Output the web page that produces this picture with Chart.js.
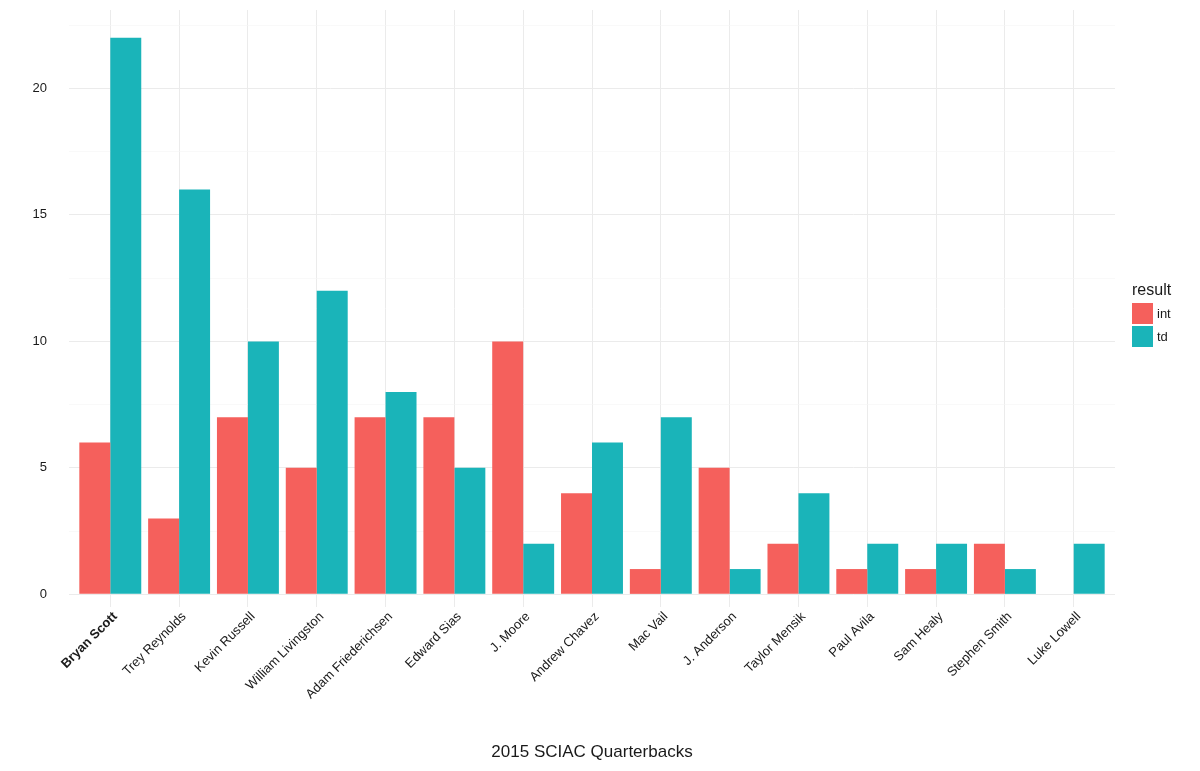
<!DOCTYPE html>
<html>
<head>
<meta charset="utf-8">
<script src="https://cdn.jsdelivr.net/npm/chart.js@4"></script>
<style>
    body { margin: 0; background: #fff; font-family: "Liberation Sans", Arial, sans-serif; }
    #wrap { position: relative; width: 1200px; height: 771px; }
    #legend { position: absolute; left: 1132px; top: 280px; color: #1a1a1a; }
    #legend .title { font-size: 16px; line-height: 20px; margin-bottom: 2px; }
    #legend .item { display: flex; align-items: center; height: 23px; font-size: 13px; }
    #legend .box { width: 21px; height: 21px; margin-right: 4px; }
</style>
</head>
<body>
<div id="wrap">
    <canvas id="qb-chart"></canvas>
    <div id="legend"></div>
</div>
<script>
const players = ["Bryan Scott", "Trey Reynolds", "Kevin Russell", "William Livingston", "Adam Friederichsen",
    "Edward Sias", "J. Moore", "Andrew Chavez", "Mac Vail", "J. Anderson", "Taylor Mensik",
    "Paul Avila", "Sam Healy", "Stephen Smith", "Luke Lowell"];
const int_values = [6, 3, 7, 5, 7, 7, 10, 4, 1, 5, 2, 1, 1, 2, 0];
const td_values = [22, 16, 10, 12, 8, 5, 2, 6, 7, 1, 4, 2, 2, 1, 2];
const series_names = ["int", "td"];
const y_major = [0, 5, 10, 15, 20];
const y_minor = [2.5, 7.5, 12.5, 17.5, 22.5];

const colors = ["#F5605C", "#1AB4B9"];
const font_family = '"Liberation Sans", Arial, sans-serif';
const text_color = "#1a1a1a";

// legend (ggplot style, to the right)
let legend = document.getElementById("legend");
let html = '<div class="title">result</div>';
series_names.forEach(function(name, i) {
    html += '<div class="item"><div class="box" style="background:' + colors[i] + '"></div>' + name + '</div>';
});
legend.innerHTML = html;

function toPoints(values) {
    return values.map(function(v, i) { return {x: i, y: v}; });
}

let all_y_ticks = y_major.concat(y_minor).sort(function(a, b) { return a - b; });

new Chart("qb-chart", {
    type: "bar",
    data: {
        datasets: [
            { label: series_names[0], data: toPoints(int_values), backgroundColor: colors[0] },
            { label: series_names[1], data: toPoints(td_values), backgroundColor: colors[1] }
        ]
    },
    options: {
        responsive: true,
        maintainAspectRatio: false,
        animation: false,
        events: [],
        layout: { padding: { left: 9, right: 85, top: 10, bottom: 0 } },
        datasets: { bar: { categoryPercentage: 0.9, barPercentage: 1.0 } },
        plugins: {
            legend: { display: false },
            tooltip: { enabled: false }
        },
        scales: {
            x: {
                type: "linear",
                offset: false,
                min: -0.6,
                max: players.length - 0.4,
                afterBuildTicks: function(scale) {
                    scale.ticks = players.map(function(p, i) { return {value: i}; });
                },
                afterFit: function(scale) { scale.height = 164; },
                border: { display: false },
                grid: { color: "#ebebeb", lineWidth: 1, drawTicks: false, offset: false },
                ticks: {
                    autoSkip: false,
                    maxRotation: 45,
                    minRotation: 45,
                    padding: 2,
                    labelOffset: 5,
                    color: text_color,
                    font: function(ctx) {
                        return { family: font_family, size: 13, weight: ctx.index === 0 ? "bold" : "normal" };
                    },
                    callback: function(value) { return players[value]; }
                },
                title: {
                    display: true,
                    text: "2015 SCIAC Quarterbacks",
                    color: text_color,
                    font: { family: font_family, size: 17 },
                    padding: { top: 0, bottom: 8 }
                }
            },
            y: {
                min: -0.5,
                max: 23.1,
                afterBuildTicks: function(scale) {
                    scale.ticks = all_y_ticks.map(function(v) { return {value: v}; });
                },
                afterFit: function(scale) {
                    scale.width = 60;
                    scale.paddingTop = 0;
                    scale.paddingBottom = 0;
                },
                border: { display: false },
                grid: {
                    drawTicks: false,
                    color: function(ctx) { return y_major.includes(ctx.tick.value) ? "#ebebeb" : "#f5f5f5"; },
                    lineWidth: function(ctx) { return y_major.includes(ctx.tick.value) ? 1 : 0.6; }
                },
                ticks: {
                    padding: 22,
                    color: text_color,
                    font: { family: font_family, size: 13 },
                    callback: function(value) { return y_major.includes(value) ? value : ""; }
                }
            }
        }
    }
});
</script>
</body>
</html>
